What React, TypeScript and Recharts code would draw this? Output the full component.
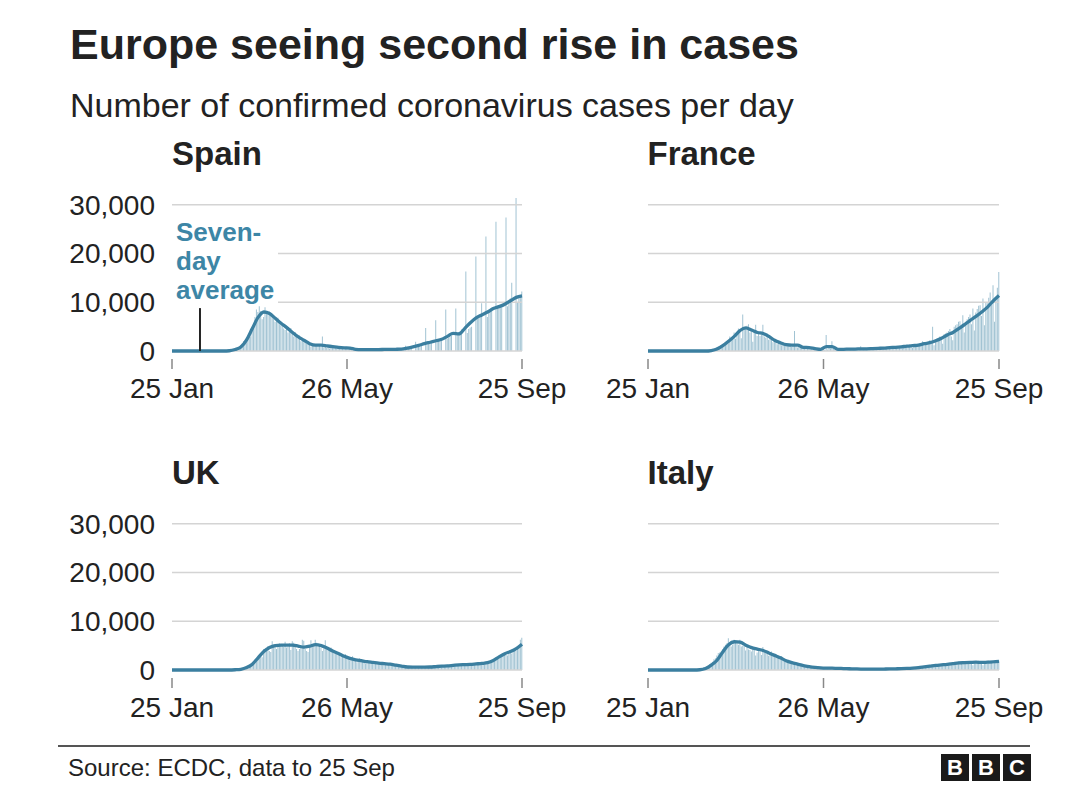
import { ComposedChart, Bar, Line, XAxis, YAxis, ReferenceLine } from 'recharts';

// daily cases, one value per day from 25 Jan (day 0) to 25 Sep (day 244)
const spainCases = [
  0, 0, 0, 0, 0, 0, 0, 0, 0, 0,
  0, 0, 0, 0, 0, 0, 0, 0, 0, 0,
  0, 0, 0, 0, 0, 0, 0, 0, 0, 0,
  0, 0, 0, 0, 0, 0, 0, 0, 0, 0,
  20, 50, 100, 120, 200, 300, 600, 800, 1200, 1500, 2000, 1900, 2500, 3000, 3500, 3000, 4500, 5500, 7000, 8500,
  8000, 9200, 8200, 6500, 7000, 9000, 8000, 7800, 8100, 7800, 7200, 6600, 6000, 6200, 6800, 5500, 5300, 5200, 4600, 4300,
  4500, 3800, 4200, 4700, 3500, 3000, 3900, 2800, 2500, 3200, 2000, 2600, 1800, 2100, 1500, 1800, 1400, 900, 1200, 1500,
  1100, 1000, 900, 1300, 800, 3000, 700, 900, 600, 800, 500, 1000, 700, 600, 800, 500, 700, 400, 600, 500, 300, 600, 500,
  300, 400, 200, 0, 500, 350, 300, 400, 300, 200, 0, 400, 350, 300, 350, 300, 250, 0, 400, 300,
  350, 300, 350, 200, 0, 450, 300, 400, 350, 400, 250, 0, 500, 400, 450, 500, 600, 300,
  0, 0, 1100, 450, 500, 550, 600,
  0, 0, 1900, 750, 900, 1000, 1100,
  0, 0, 4700, 1400, 1600, 1800, 2000,
  0, 0, 6300, 1800, 2000, 2200, 2400,
  0, 0, 8500, 2500, 2700, 3000, 3100,
  0, 0, 8700, 3600, 3900, 4100, 4400,
  0, 0, 16300, 3700, 4500, 4800, 5000,
  0, 0, 19400, 6700, 7000, 7300, 9800,
  0, 0, 23500, 7000, 8100, 8000, 8700,
  0, 0, 26500, 8900, 9000, 8900, 9000,
  0, 0, 27400, 9200, 10000, 10800, 14000,
  0, 0, 31400, 10000, 10800, 11300, 12200,
];

const franceCases = [
  0, 0, 0, 0, 0, 0, 0, 0, 0, 0,
  0, 0, 0, 0, 0, 0, 0, 0, 0, 0,
  0, 0, 0, 0, 0, 0, 0, 0, 0, 0,
  0, 0, 0, 0, 0, 0, 0, 0, 0, 0,
  100, 100, 300, 200, 100, 300, 400, 500, 800, 900, 800, 1200, 1100, 1400, 1600, 1800, 1600, 3000, 2400, 2900,
  3800, 2500, 3900, 4600, 4000, 2600, 7500, 5000, 4500, 5200, 5500, 3800, 4300, 1900, 4200, 5400, 3100, 4000, 3100, 3400,
  5400, 3000, 2700, 3600, 2300, 3100, 2600, 1800, 2200, 2000, 1400, 2100, 1600, 1200, 1800, 1100, 1400, 1000, 900, 1300,
  800, 1100, 4100, 900, 700, 1000, 600, 800, 500, 700, 600, 400, 500, 300, 600, 400, 300, 500, 200, 400, 300, 100, 400,
  200, 3300, 300, 1000, 500, 2000, 400, 300, 200, 400, 300, 400, 500, 200, 300, 400, 400, 500, 300, 400,
  500, 400, 300, 500, 400, 1000, 500, 300, 400, 500, 600, 500, 400, 600, 500, 600, 700, 500,
  700, 500, 300, 600, 700, 650, 700,
  800, 600, 400, 750, 850, 800, 850,
  1000, 700, 500, 900, 1000, 1000, 1100,
  1300, 900, 600, 1200, 1300, 1400, 1500,
  1600, 1100, 2000, 1500, 1600, 1700, 1800,
  2200, 1500, 5000, 1200, 2300, 2500, 2600,
  3000, 2300, 1500, 3500, 3600, 3800, 4100,
  4500, 3000, 2200, 5000, 5300, 5500, 6000,
  6100, 4900, 7350, 3800, 6000, 6500, 7000,
  7500, 5500, 8700, 4200, 7900, 8600, 9300,
  9400, 7200, 10750, 5300, 10000, 9800, 10900,
  12000, 9500, 13500, 6000, 10600, 13000, 16200,
];

const ukCases = [
  0, 0, 0, 0, 0, 0, 0, 0, 0, 0,
  0, 0, 0, 0, 0, 0, 0, 0, 0, 0,
  0, 0, 0, 0, 0, 0, 0, 0, 0, 0,
  0, 0, 0, 0, 0, 0, 0, 0, 0, 0,
  20, 30, 40, 50, 50, 60, 80, 130, 200, 150, 340, 250, 400, 600, 800, 1000, 1300, 1500, 2100, 2400,
  2500, 2900, 3000, 2600, 4300, 4300, 4400, 4900, 3900, 3700, 5900, 5200, 5300, 4300, 5200, 5500, 5300, 5200, 4700, 5800,
  4600, 4700, 5500, 4100, 5900, 5600, 4800, 4300, 3900, 4300, 4500, 6200, 6000, 4300, 3900, 3700, 4800, 6100, 5000, 5300,
  6200, 5600, 4800, 4900, 4500, 3900, 4400, 6100, 4700, 4300, 3900, 4600, 3700, 3800, 3400, 3300, 3400, 3500, 2600, 2700, 2800, 3300, 2700,
  2400, 2000, 2100, 2800, 2100, 1900, 1600, 1900, 2400, 1800, 1800, 1600, 1300, 1400, 1700, 1800, 1500, 1500, 1200, 1300,
  1400, 1600, 1300, 1200, 1000, 1200, 1300, 1200, 1100, 1100, 900, 1000, 1000, 900, 900, 800, 800, 700,
  600, 650, 550, 600, 700, 650, 600,
  650, 500, 600, 600, 650, 700, 550,
  600, 550, 500, 600, 700, 650, 700,
  750, 700, 650, 700, 800, 850, 800,
  900, 750, 700, 900, 950, 850, 900,
  1000, 900, 800, 1000, 1100, 1000, 1100,
  1100, 1000, 1000, 1200, 1100, 1200, 1200,
  1300, 1100, 1100, 1200, 1400, 1300, 1400,
  1500, 1200, 1300, 1300, 1400, 1500, 1900,
  1800, 1800, 2500, 2500, 2600, 2900, 3000,
  3500, 3300, 3100, 3000, 3400, 3900, 3400,
  4300, 3900, 3900, 4400, 4900, 6200, 6600,
];

const italyCases = [
  0, 0, 0, 0, 0, 0, 0, 0, 0, 0,
  0, 0, 0, 0, 0, 0, 0, 0, 0, 0,
  0, 0, 0, 0, 0, 0, 0, 0, 0, 0,
  0, 20, 40, 80, 100, 150, 200, 250, 400, 550, 600, 700, 900, 1200, 1500, 1700, 2200, 2400, 3000, 3500,
  3600, 3800, 4200, 4800, 5200, 5500, 6500, 5600, 4800, 5200, 6200, 5900, 5400, 5200, 6200, 4800, 5000, 5200, 4000, 4700,
  4200, 4100, 3800, 4600, 4100, 3000, 3600, 4200, 3900, 3100, 4700, 4000, 3500, 3500, 2900, 3400, 3800, 3200, 2700, 2600,
  2400, 3000, 2300, 2800, 2200, 1800, 2100, 1800, 2100, 1900, 1400, 1200, 1400, 1000, 1200, 1100, 1000, 800, 900, 700,
  800, 650, 750, 600, 500, 650, 550, 450, 500, 400, 350, 550, 400,
  300, 400, 350, 300, 400, 200, 350, 300, 250, 350, 300, 250, 200, 300, 250, 200, 250, 300, 150, 250,
  200, 200, 150, 250, 200, 150, 200, 180, 150, 200, 200, 150, 180, 200, 150, 200, 180, 200,
  200, 220, 150, 200, 250, 230, 250,
  240, 230, 170, 220, 280, 250, 270,
  300, 250, 200, 280, 300, 350, 380,
  350, 400, 250, 400, 450, 550, 550,
  600, 450, 400, 550, 650, 800, 900,
  900, 950, 600, 900, 1000, 1100, 1100,
  1000, 1200, 900, 1100, 1300, 1400, 1400,
  1500, 1300, 1000, 1400, 1600, 1600, 1700,
  1700, 1400, 1100, 1400, 1600, 1600, 1700,
  1700, 1300, 1000, 1400, 1600, 1700, 1900,
  1600, 1400, 1000, 1400, 1700, 1600, 1900,
  1600, 1600, 1300, 1400, 1600, 1800, 1900,
];

// seven-day average, one value every 4 days (day 0, 4, 8 ... 244)
const AVG_STEP = 4;

const spainAvg = [
  0, 0, 0, 0, 0, 0, 0, 0, 0, 0,
  50, 300, 800, 2300, 4600, 6900, 8000, 7700, 6700, 5700,
  4800, 3800, 2900, 2200, 1500, 1200, 1200, 1050, 900, 750,
  650, 600, 350, 300, 300, 300, 300, 320, 330, 350,
  400, 600, 850, 1150, 1500, 1800, 2100, 2400, 3000, 3600,
  3500, 4600, 5800, 6800, 7400, 8000, 8700, 9100, 9600, 10300,
  11000, 11300,
];

const franceAvg = [
  0, 0, 0, 0, 0, 0, 0, 0, 0, 0,
  0, 100, 400, 1100, 2000, 3000, 4200, 4750, 4300, 3800,
  3600, 3000, 2200, 1700, 1300, 1200, 1200, 750, 700, 500,
  350, 900, 900, 350, 350, 400, 400, 450, 450, 500,
  550, 600, 700, 750, 850, 1000, 1100, 1200, 1500, 1700,
  2100, 2600, 3300, 3800, 4600, 5400, 6300, 7100, 8000, 9000,
  10300, 11400,
];

const ukAvg = [
  0, 0, 0, 0, 0, 0, 0, 0, 0, 0,
  0, 50, 150, 500, 1200, 2500, 3800, 4600, 5000, 5100,
  5100, 5100, 4900, 4700, 4900, 5200, 5000, 4500, 3900, 3400,
  2800, 2400, 2100, 1900, 1700, 1550, 1400, 1300, 1200, 1000,
  800, 620, 600, 600, 600, 620, 700, 780, 850, 950,
  1050, 1100, 1150, 1250, 1350, 1500, 1950, 2700, 3350, 3800,
  4400, 5300,
];

const italyAvg = [
  0, 0, 0, 0, 0, 0, 0, 0, 0, 50,
  300, 1000, 2000, 3700, 5200, 5800, 5700, 5100, 4600, 4300,
  4000, 3500, 3000, 2500, 1900, 1500, 1200, 900, 700, 550,
  450, 400, 380, 330, 300, 260, 230, 200, 190, 180,
  180, 200, 220, 250, 280, 330, 400, 500, 650, 800,
  950, 1050, 1150, 1300, 1450, 1500, 1550, 1600, 1550, 1600,
  1650, 1750,
];

const xTickDays = [0, 122, 244];
const xTickLabels = ['25 Jan', '26 May', '25 Sep'];
const yTicks = [0, 10000, 20000, 30000];

const FONT = "'Liberation Sans', Arial, Helvetica, sans-serif";
const TEXT = '#222222';
const BAR = '#a1c3d3';
const LINE = '#3b7fa0';

const PLOT_H = 156;
const AXIS_H = 60;
const Y_W = 110;
const RIGHT = 60;
const TOP = 24;

function buildRows(cases: number[], avg: number[]) {
  return cases.map((c, i) => ({
    day: i,
    cases: c,
    avg: i % AVG_STEP === 0 ? avg[i / AVG_STEP] : null,
  }));
}

function XTick(props: any) {
  const { x, y, payload } = props;
  const label = xTickLabels[xTickDays.indexOf(payload.value)];
  return (
    <g>
      <line x1={x} x2={x} y1={y + 8} y2={y + 18} stroke="#888" strokeWidth={1.5} />
      <text x={x} y={y + 37} dy="0.355em" textAnchor="middle" fill={TEXT} fontSize={28} fontFamily={FONT}>
        {label}
      </text>
    </g>
  );
}

function Panel(props: {
  title: string;
  cases: number[];
  avg: number[];
  plotLeft: number;
  zeroY: number;
  plotW: number;
  showY: boolean;
  pointer?: boolean;
}) {
  const { title, cases, avg, plotLeft, zeroY, plotW, showY, pointer } = props;
  const rows = buildRows(cases, avg);
  const top = zeroY - PLOT_H - TOP;
  return (
    <>
      <div
        style={{
          position: 'absolute',
          left: plotLeft,
          top: zeroY - 214,
          fontFamily: FONT,
          fontWeight: 700,
          fontSize: 33,
          lineHeight: '33px',
          color: TEXT,
        }}
      >
        {title}
      </div>
      <div style={{ position: 'absolute', left: plotLeft - Y_W, top }}>
        <ComposedChart
          width={Y_W + plotW + RIGHT}
          height={TOP + PLOT_H + AXIS_H}
          data={rows}
          margin={{ top: TOP, right: RIGHT, left: 0, bottom: 0 }}
        >
          <XAxis
            dataKey="day"
            type="number"
            domain={[0, 244]}
            ticks={xTickDays}
            height={AXIS_H}
            axisLine={false}
            tickLine={false}
            tickSize={0}
            tickMargin={0}
            tick={<XTick />}
            interval={0}
          />
          <YAxis
            domain={[0, 32000]}
            ticks={yTicks}
            interval={0}
            width={Y_W}
            axisLine={false}
            tickLine={false}
            tickSize={0}
            tickMargin={17}
            tick={showY ? { fill: TEXT, fontSize: 28, fontFamily: FONT } : false}
            tickFormatter={(v: number) => v.toLocaleString('en-GB')}
          />
          {yTicks.map((v) => (
            <ReferenceLine key={v} y={v} stroke="#d4d4d4" strokeWidth={1.5} />
          ))}
          <Bar dataKey="cases" fill={BAR} barSize={1} isAnimationActive={false} />
          <Line
            dataKey="avg"
            type="monotone"
            stroke={LINE}
            strokeWidth={3.3}
            dot={false}
            connectNulls
            isAnimationActive={false}
          />
          {pointer && (
            <ReferenceLine
              segment={[
                { x: 19.5, y: 0 },
                { x: 19.5, y: 8800 },
              ]}
              stroke="#222"
              strokeWidth={2}
            />
          )}
        </ComposedChart>
      </div>
    </>
  );
}

export default function App() {
  return (
    <div
      style={{
        position: 'absolute',
        left: 0,
        top: 0,
        width: 1080,
        height: 809,
        background: '#ffffff',
        fontFamily: FONT,
        color: TEXT,
        overflow: 'hidden',
      }}
    >
      <div style={{ position: 'absolute', left: 70, top: 23, fontSize: 43, fontWeight: 700, lineHeight: '43px' }}>
        Europe seeing second rise in cases
      </div>
      <div style={{ position: 'absolute', left: 70, top: 88, fontSize: 34, lineHeight: '34px' }}>
        Number of confirmed coronavirus cases per day
      </div>

      <Panel title="Spain" cases={spainCases} avg={spainAvg} plotLeft={172} zeroY={351} plotW={350} showY pointer />
      <Panel title="France" cases={franceCases} avg={franceAvg} plotLeft={647.5} zeroY={351} plotW={351} showY={false} />
      <Panel title="UK" cases={ukCases} avg={ukAvg} plotLeft={172} zeroY={669.5} plotW={350} showY />
      <Panel title="Italy" cases={italyCases} avg={italyAvg} plotLeft={647.5} zeroY={669.5} plotW={351} showY={false} />

      <div
        style={{
          position: 'absolute',
          left: 172,
          top: 218,
          width: 106,
          height: 88,
          background: '#ffffff',
          color: '#3d86a6',
          fontWeight: 700,
          fontSize: 26,
          lineHeight: '29px',
          paddingLeft: 4,
          boxSizing: 'border-box',
        }}
      >
        Seven-
        <br />
        day
        <br />
        average
      </div>

      <div style={{ position: 'absolute', left: 58, top: 745, width: 972, height: 2, background: '#555' }} />
      <div style={{ position: 'absolute', left: 68, top: 756, fontSize: 24, lineHeight: '24px' }}>
        Source: ECDC, data to 25 Sep
      </div>
      <div style={{ position: 'absolute', left: 941, top: 754, display: 'flex', gap: 3 }}>
        {['B', 'B', 'C'].map((ch, i) => (
          <div
            key={i}
            style={{
              width: 28,
              height: 27,
              background: '#1a1a1a',
              color: '#fff',
              fontWeight: 700,
              fontSize: 22,
              lineHeight: '27px',
              textAlign: 'center',
            }}
          >
            {ch}
          </div>
        ))}
      </div>
    </div>
  );
}
